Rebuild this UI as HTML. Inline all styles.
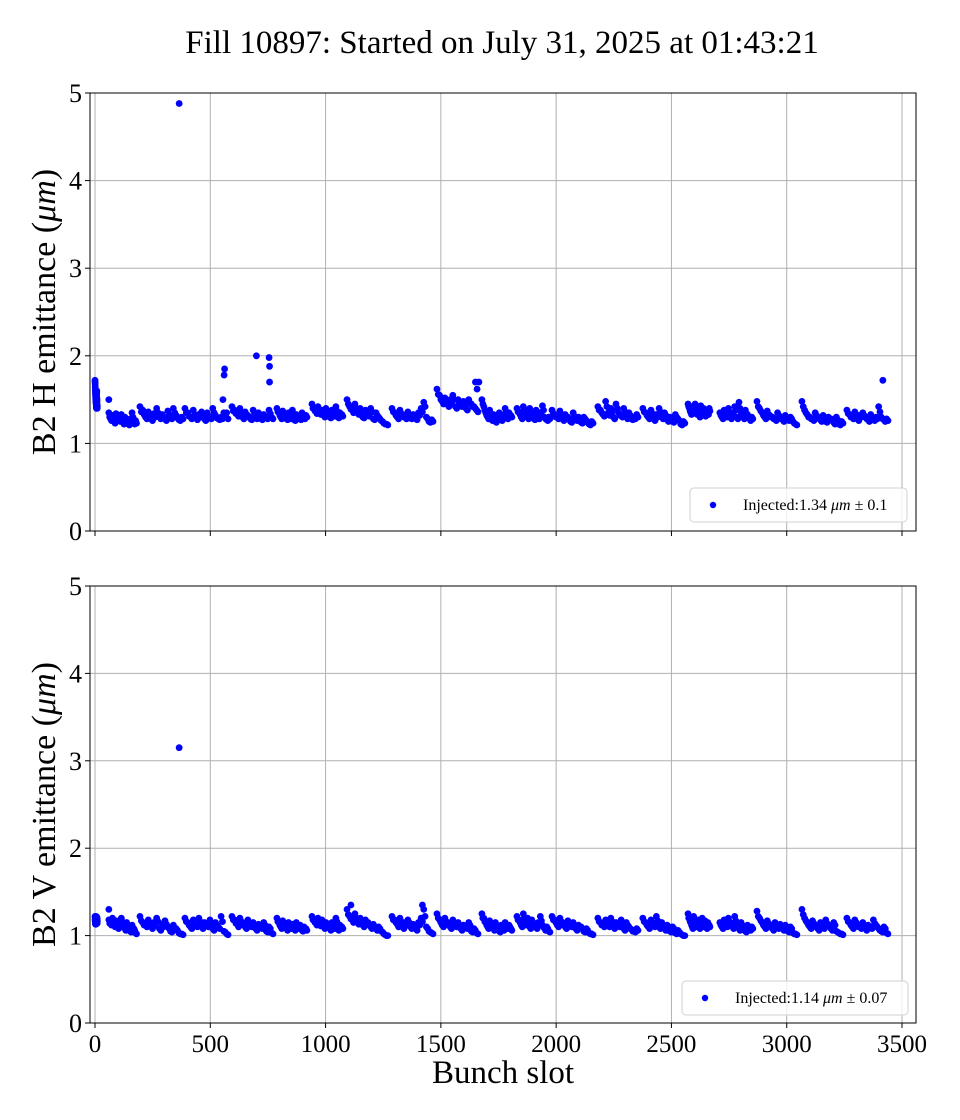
<!DOCTYPE html>
<html><head><meta charset="utf-8">
<style>
html,body{margin:0;padding:0;background:#fff;}
svg{display:block;font-family:"Liberation Serif","DejaVu Serif",serif;}
</style></head>
<body>
<svg id="fig" width="960" height="1120" viewBox="0 0 960 1120" xmlns="http://www.w3.org/2000/svg">
<rect width="960" height="1120" fill="#fff"/>
<text x="502" y="53" font-size="33" text-anchor="middle">Fill 10897: Started on July 31, 2025 at 01:43:21</text>
<g id="top"></g>
<g id="bot"></g>
<text x="503" y="1083" font-size="33" text-anchor="middle">Bunch slot</text>
</svg>
<script>
const trainStarts=[0,60,195,390,594,789,941,1093,1288,1483,1678,1830,1982,2181,2376,2572,2710,2871,3066,3261];
const trainEnds=[10,180,382,577,772,919,1075,1270,1466,1661,1808,1973,2160,2355,2558,2667,2853,3044,3244,3439];
const hValues=[
[1.72,1.68,1.62,1.58,1.55,1.52,1.5,1.48,1.45,1.42,1.4,1.55,1.6,1.5,1.45,1.4],
[1.35,1.28,1.32,1.25,1.34,1.3,1.27,1.33,1.24,1.3,1.26,1.22,1.28,1.35,1.24,1.26],
[1.42,1.38,1.3,1.36,1.28,1.34,1.4,1.3,1.33,1.28,1.37,1.3,1.4,1.32,1.27,1.3],
[1.4,1.35,1.3,1.38,1.3,1.33,1.36,1.28,1.35,1.3,1.4,1.32,1.28,1.3,1.35,1.35],
[1.42,1.38,1.35,1.4,1.3,1.36,1.32,1.28,1.38,1.3,1.35,1.28,1.33,1.3,1.38,1.3],
[1.4,1.35,1.3,1.37,1.32,1.28,1.35,1.3,1.38,1.27,1.33,1.3,1.28,1.35,1.3,1.32],
[1.45,1.4,1.37,1.42,1.35,1.38,1.32,1.4,1.35,1.3,1.38,1.33,1.42,1.3,1.35,1.33],
[1.5,1.42,1.38,1.45,1.35,1.4,1.3,1.38,1.33,1.4,1.28,1.35,1.3,1.26,1.23,1.22],
[1.4,1.35,1.3,1.38,1.33,1.3,1.36,1.3,1.33,1.28,1.35,1.4,1.47,1.3,1.25,1.27],
[1.62,1.55,1.48,1.52,1.45,1.5,1.55,1.42,1.5,1.45,1.48,1.4,1.5,1.45,1.42,1.38],
[1.5,1.42,1.35,1.3,1.38,1.28,1.33,1.25,1.3,1.35,1.28,1.32,1.4,1.3,1.35,1.32],
[1.4,1.36,1.3,1.42,1.35,1.3,1.4,1.33,1.28,1.38,1.3,1.35,1.43,1.3,1.27,1.3],
[1.38,1.33,1.3,1.37,1.28,1.33,1.3,1.25,1.35,1.28,1.3,1.24,1.3,1.26,1.22,1.25],
[1.42,1.38,1.33,1.48,1.35,1.4,1.3,1.45,1.35,1.32,1.4,1.3,1.35,1.28,1.3,1.33],
[1.4,1.35,1.3,1.38,1.28,1.33,1.4,1.3,1.35,1.27,1.3,1.25,1.33,1.28,1.22,1.25],
[1.45,1.4,1.35,1.42,1.38,1.45,1.35,1.4,1.32,1.43,1.36,1.4,1.33,1.38,1.35,1.4],
[1.35,1.3,1.38,1.32,1.4,1.3,1.35,1.42,1.3,1.47,1.35,1.3,1.38,1.33,1.28,1.3],
[1.48,1.4,1.35,1.3,1.37,1.32,1.3,1.28,1.35,1.3,1.27,1.32,1.28,1.3,1.25,1.22],
[1.48,1.38,1.33,1.3,1.28,1.35,1.3,1.27,1.32,1.25,1.3,1.28,1.24,1.3,1.22,1.25],
[1.38,1.33,1.3,1.36,1.28,1.32,1.35,1.3,1.27,1.33,1.28,1.3,1.42,1.3,1.27,1.28]];
const hValuesB=[
[1.7,1.65,1.6,1.56,1.53,1.5,1.47,1.46,1.44,1.41,1.42,1.58,1.52,1.48,1.43,1.42],
[1.3,1.26,1.29,1.23,1.3,1.27,1.25,1.29,1.22,1.27,1.24,1.21,1.25,1.3,1.22,1.23],
[1.36,1.33,1.28,1.32,1.26,1.3,1.35,1.28,1.3,1.26,1.33,1.28,1.35,1.29,1.26,1.28],
[1.35,1.31,1.28,1.33,1.27,1.3,1.32,1.26,1.31,1.28,1.35,1.29,1.27,1.28,1.32,1.28],
[1.37,1.34,1.31,1.35,1.28,1.33,1.3,1.27,1.34,1.28,1.32,1.27,1.3,1.28,1.34,1.28],
[1.36,1.32,1.28,1.33,1.29,1.27,1.32,1.28,1.34,1.26,1.3,1.28,1.27,1.31,1.28,1.3],
[1.4,1.37,1.34,1.38,1.33,1.35,1.3,1.36,1.32,1.29,1.35,1.31,1.37,1.29,1.32,1.31],
[1.45,1.39,1.35,1.4,1.33,1.37,1.29,1.35,1.31,1.36,1.27,1.32,1.28,1.25,1.22,1.21],
[1.36,1.32,1.28,1.34,1.3,1.28,1.33,1.28,1.3,1.27,1.32,1.36,1.42,1.28,1.24,1.25],
[1.56,1.5,1.45,1.48,1.42,1.46,1.5,1.4,1.46,1.42,1.44,1.38,1.46,1.42,1.4,1.36],
[1.45,1.38,1.32,1.28,1.34,1.26,1.3,1.24,1.28,1.32,1.26,1.3,1.36,1.28,1.32,1.3],
[1.36,1.33,1.28,1.38,1.32,1.28,1.36,1.3,1.27,1.34,1.28,1.32,1.38,1.28,1.26,1.28],
[1.34,1.3,1.28,1.33,1.26,1.3,1.28,1.24,1.31,1.26,1.28,1.23,1.28,1.24,1.21,1.23],
[1.38,1.35,1.31,1.42,1.32,1.36,1.28,1.4,1.32,1.3,1.36,1.28,1.32,1.27,1.28,1.3],
[1.36,1.32,1.28,1.34,1.26,1.3,1.36,1.28,1.32,1.25,1.28,1.24,1.3,1.26,1.21,1.23],
[1.42,1.37,1.33,1.39,1.35,1.41,1.33,1.37,1.3,1.39,1.34,1.37,1.31,1.35,1.33,1.37],
[1.32,1.28,1.34,1.3,1.36,1.28,1.32,1.38,1.28,1.4,1.32,1.28,1.34,1.3,1.26,1.28],
[1.42,1.37,1.32,1.28,1.33,1.3,1.28,1.26,1.32,1.28,1.25,1.3,1.26,1.28,1.23,1.21],
[1.42,1.35,1.3,1.28,1.26,1.32,1.28,1.25,1.3,1.24,1.28,1.26,1.22,1.27,1.21,1.23],
[1.34,1.3,1.28,1.33,1.26,1.3,1.32,1.28,1.25,1.3,1.26,1.28,1.36,1.28,1.25,1.26]];
const vValues=[
[1.22,1.2,1.18,1.15,1.2,1.17,1.14,1.2,1.22,1.18,1.15,1.2,1.17,1.21,1.16,1.19],
[1.18,1.15,1.2,1.12,1.17,1.1,1.15,1.2,1.12,1.08,1.15,1.1,1.05,1.12,1.08,1.03],
[1.22,1.15,1.12,1.18,1.1,1.15,1.2,1.08,1.13,1.17,1.1,1.05,1.12,1.08,1.03,1.02],
[1.2,1.15,1.1,1.18,1.13,1.2,1.1,1.15,1.12,1.18,1.08,1.15,1.1,1.22,1.05,1.02],
[1.22,1.18,1.13,1.2,1.15,1.1,1.18,1.12,1.15,1.08,1.13,1.1,1.15,1.05,1.1,1.03],
[1.2,1.15,1.1,1.17,1.12,1.08,1.15,1.1,1.13,1.08,1.15,1.1,1.12,1.06,1.1,1.08],
[1.22,1.18,1.15,1.2,1.13,1.18,1.1,1.15,1.12,1.08,1.15,1.1,1.2,1.08,1.12,1.1],
[1.3,1.22,1.18,1.25,1.15,1.2,1.12,1.18,1.15,1.1,1.13,1.08,1.1,1.05,1.02,1.0],
[1.22,1.18,1.13,1.2,1.1,1.15,1.18,1.1,1.13,1.08,1.15,1.2,1.3,1.1,1.05,1.03],
[1.25,1.18,1.12,1.2,1.15,1.1,1.18,1.12,1.15,1.08,1.12,1.1,1.15,1.05,1.08,1.03],
[1.25,1.2,1.15,1.1,1.17,1.12,1.08,1.15,1.1,1.05,1.12,1.08,1.15,1.1,1.12,1.08],
[1.22,1.18,1.12,1.25,1.15,1.2,1.1,1.18,1.13,1.1,1.15,1.22,1.12,1.08,1.1,1.05],
[1.22,1.18,1.12,1.2,1.15,1.1,1.17,1.12,1.15,1.08,1.12,1.1,1.05,1.08,1.03,1.02],
[1.2,1.15,1.12,1.18,1.13,1.2,1.1,1.15,1.12,1.18,1.08,1.15,1.1,1.07,1.05,1.08],
[1.2,1.15,1.1,1.18,1.13,1.22,1.1,1.15,1.08,1.12,1.05,1.1,1.03,1.06,1.02,1.0],
[1.25,1.2,1.15,1.1,1.22,1.15,1.12,1.18,1.1,1.15,1.2,1.12,1.17,1.1,1.15,1.12],
[1.15,1.1,1.18,1.12,1.2,1.15,1.1,1.22,1.13,1.08,1.15,1.1,1.05,1.12,1.08,1.1],
[1.28,1.2,1.15,1.1,1.17,1.12,1.08,1.15,1.1,1.13,1.08,1.12,1.05,1.1,1.03,1.02],
[1.3,1.2,1.15,1.1,1.17,1.12,1.08,1.15,1.1,1.18,1.12,1.08,1.15,1.05,1.03,1.02],
[1.2,1.15,1.1,1.18,1.13,1.1,1.15,1.08,1.12,1.1,1.18,1.12,1.08,1.05,1.1,1.03]];
const vValuesB=[
[1.18,1.16,1.14,1.13,1.17,1.15,1.13,1.17,1.19,1.16,1.14,1.17,1.15,1.18,1.14,1.16],
[1.14,1.12,1.16,1.1,1.13,1.08,1.12,1.16,1.1,1.06,1.12,1.08,1.04,1.09,1.06,1.02],
[1.17,1.12,1.1,1.14,1.08,1.12,1.16,1.06,1.1,1.13,1.08,1.04,1.09,1.06,1.02,1.01],
[1.16,1.12,1.08,1.14,1.1,1.16,1.08,1.12,1.1,1.14,1.06,1.12,1.08,1.16,1.04,1.01],
[1.18,1.14,1.1,1.16,1.12,1.08,1.14,1.1,1.12,1.06,1.1,1.08,1.12,1.04,1.08,1.02],
[1.16,1.12,1.08,1.14,1.1,1.06,1.12,1.08,1.1,1.06,1.12,1.08,1.1,1.05,1.08,1.06],
[1.18,1.15,1.12,1.16,1.11,1.15,1.08,1.12,1.1,1.06,1.12,1.08,1.16,1.06,1.1,1.08],
[1.24,1.19,1.15,1.2,1.13,1.17,1.1,1.15,1.12,1.08,1.1,1.06,1.08,1.04,1.01,1.0],
[1.18,1.15,1.1,1.16,1.08,1.12,1.15,1.08,1.1,1.06,1.12,1.16,1.22,1.08,1.04,1.02],
[1.2,1.15,1.1,1.16,1.12,1.08,1.15,1.1,1.12,1.06,1.1,1.08,1.12,1.04,1.06,1.02],
[1.2,1.16,1.12,1.08,1.14,1.1,1.06,1.12,1.08,1.04,1.1,1.06,1.12,1.08,1.1,1.06],
[1.18,1.15,1.1,1.2,1.12,1.16,1.08,1.15,1.1,1.08,1.12,1.17,1.1,1.06,1.08,1.04],
[1.18,1.15,1.1,1.16,1.12,1.08,1.14,1.1,1.12,1.06,1.1,1.08,1.04,1.06,1.02,1.01],
[1.16,1.12,1.1,1.15,1.1,1.16,1.08,1.12,1.1,1.14,1.06,1.12,1.08,1.05,1.04,1.06],
[1.16,1.12,1.08,1.15,1.1,1.17,1.08,1.12,1.06,1.1,1.04,1.08,1.02,1.04,1.01,1.0],
[1.2,1.16,1.12,1.08,1.18,1.12,1.1,1.15,1.08,1.12,1.16,1.1,1.14,1.08,1.12,1.1],
[1.12,1.08,1.15,1.1,1.16,1.12,1.08,1.17,1.1,1.06,1.12,1.08,1.04,1.1,1.06,1.08],
[1.22,1.17,1.12,1.08,1.14,1.1,1.06,1.12,1.08,1.1,1.06,1.1,1.04,1.08,1.02,1.01],
[1.24,1.17,1.12,1.08,1.14,1.1,1.06,1.12,1.08,1.14,1.1,1.06,1.12,1.04,1.02,1.01],
[1.16,1.12,1.08,1.15,1.1,1.08,1.12,1.06,1.1,1.08,1.14,1.1,1.06,1.04,1.08,1.02]];
const hOutlierSlots=[365,555,560,562,700,755,757,757,1650,1665,1657,3417,60];
const hOutlierValues=[4.88,1.5,1.78,1.85,2.0,1.98,1.88,1.7,1.7,1.7,1.62,1.72,1.5];
const vOutlierSlots=[365,60,1420,1110];
const vOutlierValues=[3.15,1.3,1.35,1.35];
const xTicks=[0,500,1000,1500,2000,2500,3000,3500];
const yTicks=[0,1,2,3,4,5];

const NS="http://www.w3.org/2000/svg";
const AX={left:90,right:916};
function xs(s){return 95+s*(807/3500);}
function mk(tag,attrs,parent){const e=document.createElementNS(NS,tag);for(const k in attrs)e.setAttribute(k,attrs[k]);parent.appendChild(e);return e;}

function panel(g,top,bottom,vals,valsB,oS,oV,ylabel,legendText,legend,showX,prefix){
  const ys=v=>bottom-(v/5)*(bottom-top);
  for(const t of xTicks){
    const l=mk('line',{x1:xs(t),x2:xs(t),y1:top,y2:bottom,stroke:'#b0b0b0','stroke-width':1},g);
    
  }
  for(const t of yTicks){
    const l=mk('line',{x1:AX.left,x2:AX.right,y1:ys(t),y2:ys(t),stroke:'#b0b0b0','stroke-width':1},g);
    
  }
  const pts=mk('g',{fill:'#0000ff'},g);
  
  for(let i=0;i<trainStarts.length;i++){
    const sets=[[vals[i],0],[valsB[i],0.5]];
    for(const [arr,off] of sets){
      const n=arr.length;
      for(let j=0;j<n;j++){
        const f=Math.min(1,(j+off)/(n-0.5));
        const s=trainStarts[i]+(trainEnds[i]-trainStarts[i])*f;
        const c=mk('circle',{cx:xs(s),cy:ys(arr[j]),r:3.4},pts);
        
        
      }
    }
  }
  for(let i=0;i<oS.length;i++){
    const c=mk('circle',{cx:xs(oS[i]),cy:ys(oV[i]),r:3.4},pts);
    
    
  }
  const fr=mk('rect',{x:AX.left,y:top,width:AX.right-AX.left,height:bottom-top,fill:'none',stroke:'#000','stroke-width':1},g);
  
  for(const t of xTicks){
    const l=mk('line',{x1:xs(t),x2:xs(t),y1:bottom,y2:bottom+5,stroke:'#000'},g);
    
    if(showX){
      const tx=mk('text',{x:xs(t),y:bottom+29,'font-size':25,'text-anchor':'middle'},g);
      tx.textContent=t;
      
    }
  }
  for(const t of yTicks){
    const l=mk('line',{x1:AX.left-5,x2:AX.left,y1:ys(t),y2:ys(t),stroke:'#000'},g);
    
    const tx=mk('text',{x:AX.left-8,y:ys(t)+9,'font-size':26,'text-anchor':'end'},g);
    tx.textContent=t;
    
  }
  const yl=mk('text',{x:0,y:0,'font-size':34,'text-anchor':'middle',transform:`translate(55,${(top+bottom)/2}) rotate(-90)`},g);
  yl.innerHTML=ylabel;
  
  const lg=mk('g',{},g);
  
  mk('rect',{x:legend[0],y:legend[1],width:legend[2],height:legend[3],rx:4,fill:'#fff','fill-opacity':0.8,stroke:'#d0d0d0'},lg);
  mk('circle',{cx:legend[0]+23,cy:legend[1]+legend[3]/2,r:3.2,fill:'#0000ff'},lg);
  const lt=mk('text',{x:legend[0]+53,y:legend[1]+legend[3]/2+5,'font-size':16},lg);
  lt.innerHTML=legendText;
  
}
panel(document.getElementById('top'),93,531,hValues,hValuesB,hOutlierSlots,hOutlierValues,
 'B2 H emittance (<tspan font-style="italic">μm</tspan>)',
 'Injected:1.34 <tspan font-style="italic">μm</tspan> ± 0.1',[690,488,217,34],false,'h');
panel(document.getElementById('bot'),586,1023,vValues,vValuesB,vOutlierSlots,vOutlierValues,
 'B2 V emittance (<tspan font-style="italic">μm</tspan>)',
 'Injected:1.14 <tspan font-style="italic">μm</tspan> ± 0.07',[682,981,226,34],true,'v');
</script>
</body></html>
